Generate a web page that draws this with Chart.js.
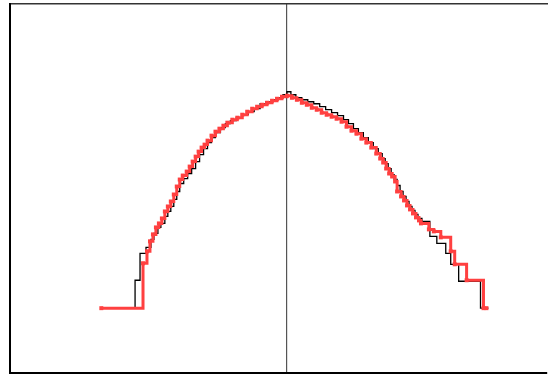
<!DOCTYPE html>
<html>
<head>
<meta charset="utf-8">
<script src="https://cdn.jsdelivr.net/npm/chart.js@4"></script>
<style>
  html, body { margin: 0; padding: 0; background: #fff; overflow: hidden; }
  #wrap { width: 551px; height: 377px; position: relative; }
</style>
</head>
<body>
<div id="wrap"><canvas id="curveChart"></canvas></div>
<script>
// Red step curve (with square markers)
const redX = [-1.87, -1.45, -1.41, -1.38, -1.35, -1.32, -1.29, -1.26, -1.23, -1.20,
  -1.17, -1.14, -1.11, -1.08, -1.05, -1.01, -0.98, -0.95, -0.92, -0.89,
  -0.86, -0.83, -0.80, -0.76, -0.72, -0.68, -0.64, -0.60, -0.55, -0.50,
  -0.45, -0.40, -0.35, -0.30, -0.25, -0.20, -0.15, -0.10, -0.05, 0,
  0.05, 0.10, 0.15, 0.20, 0.25, 0.30, 0.35, 0.40, 0.45, 0.50,
  0.55, 0.60, 0.65, 0.70, 0.75, 0.80, 0.85, 0.90, 0.94, 0.97,
  1.00, 1.03, 1.06, 1.09, 1.11, 1.15, 1.18, 1.21, 1.24, 1.27,
  1.30, 1.33, 1.35, 1.43, 1.48, 1.55, 1.65, 1.69, 1.81, 1.98, 2.01];
const redY = [0.65, 1.10, 1.22, 1.32, 1.39, 1.46, 1.50, 1.55, 1.62, 1.67,
  1.72, 1.79, 1.87, 1.94, 1.98, 2.02, 2.07, 2.12, 2.17, 2.22,
  2.26, 2.29, 2.33, 2.38, 2.42, 2.45, 2.48, 2.51, 2.54, 2.56,
  2.59, 2.62, 2.65, 2.67, 2.69, 2.71, 2.73, 2.75, 2.77, 2.78,
  2.76, 2.74, 2.71, 2.69, 2.66, 2.64, 2.61, 2.59, 2.57, 2.55,
  2.52, 2.47, 2.43, 2.40, 2.35, 2.31, 2.26, 2.20, 2.15, 2.11,
  2.05, 2.00, 1.97, 1.92, 1.82, 1.77, 1.73, 1.68, 1.64, 1.60,
  1.56, 1.53, 1.50, 1.44, 1.42, 1.36, 1.22, 1.09, 0.93, 0.65, 0.65];

// Black step curve
const blackX = [-1.87, -1.53, -1.48, -1.42, -1.37, -1.34, -1.30, -1.27, -1.23, -1.20,
  -1.17, -1.14, -1.11, -1.08, -1.04, -1.00, -0.96, -0.92, -0.88, -0.84,
  -0.80, -0.76, -0.72, -0.67, -0.62, -0.57, -0.51, -0.45, -0.39, -0.33,
  -0.27, -0.21, -0.15, -0.09, -0.04, 0, 0.04, 0.09, 0.15, 0.21,
  0.27, 0.33, 0.39, 0.45, 0.51, 0.57, 0.62, 0.67, 0.72, 0.77,
  0.82, 0.87, 0.92, 0.96, 0.99, 1.02, 1.05, 1.08, 1.11, 1.14,
  1.17, 1.20, 1.23, 1.26, 1.29, 1.32, 1.36, 1.44, 1.51, 1.60,
  1.65, 1.73, 1.95, 2.03];
const blackY = [0.65, 0.93, 1.20, 1.26, 1.34, 1.40, 1.46, 1.50, 1.57, 1.62,
  1.67, 1.74, 1.82, 1.90, 1.95, 2.00, 2.05, 2.12, 2.19, 2.25,
  2.31, 2.36, 2.41, 2.46, 2.50, 2.53, 2.56, 2.59, 2.62, 2.65,
  2.70, 2.72, 2.74, 2.76, 2.79, 2.82, 2.79, 2.76, 2.74, 2.72,
  2.70, 2.67, 2.64, 2.61, 2.58, 2.54, 2.50, 2.45, 2.41, 2.36,
  2.31, 2.25, 2.20, 2.15, 2.10, 2.05, 1.99, 1.94, 1.88, 1.82,
  1.77, 1.72, 1.67, 1.63, 1.59, 1.55, 1.52, 1.37, 1.30, 1.20,
  1.09, 0.92, 0.65, 0.65];

// Axis ranges
const xRange = [-2.79, 2.62];
const yRange = [0, 3.7];

const toPoints = (xs, ys) => xs.map((x, i) => ({ x: x, y: ys[i] }));

const ctx = document.getElementById('curveChart').getContext('2d');

new Chart(ctx, {
  type: 'line',
  data: {
    datasets: [{
      label: 'red',
      data: toPoints(redX, redY),
      borderColor: '#ff4040',
      backgroundColor: '#ff4040',
      borderWidth: 3,
      stepped: true,
      pointStyle: 'rect',
      pointRadius: 2.8,
      pointBorderWidth: 0,
      fill: false
    }, {
      label: 'black',
      data: toPoints(blackX, blackY),
      borderColor: '#000000',
      borderWidth: 1.3,
      stepped: true,
      pointRadius: 0,
      fill: false
    }]
  },
  options: {
    responsive: true,
    maintainAspectRatio: false,
    devicePixelRatio: 1,
    animation: false,
    layout: {
      padding: { left: 10, top: 0, right: 0, bottom: 0 }
    },
    plugins: {
      legend: { display: false },
      tooltip: { enabled: false }
    },
    scales: {
      x: {
        type: 'linear',
        position: 'bottom',
        min: xRange[0],
        max: xRange[1],
        afterBuildTicks: (axis) => { axis.ticks = [{ value: 0 }]; },
        ticks: { display: false },
        grid: {
          drawTicks: false,
          color: (c) => (c.tick && c.tick.value === 0 ? '#555555' : 'rgba(0,0,0,0)'),
          lineWidth: 1.2
        },
        border: { display: true, color: '#000000', width: 2 }
      },
      xTop: {
        type: 'linear',
        position: 'top',
        display: true,
        ticks: { display: false },
        grid: { display: false, drawTicks: false },
        border: { display: true, color: '#333333', width: 1.5 }
      },
      y: {
        type: 'linear',
        min: yRange[0],
        max: yRange[1],
        ticks: { display: false },
        grid: { display: false, drawTicks: false },
        border: { display: true, color: '#000000', width: 2 }
      }
    }
  }
});
</script>
</body>
</html>
